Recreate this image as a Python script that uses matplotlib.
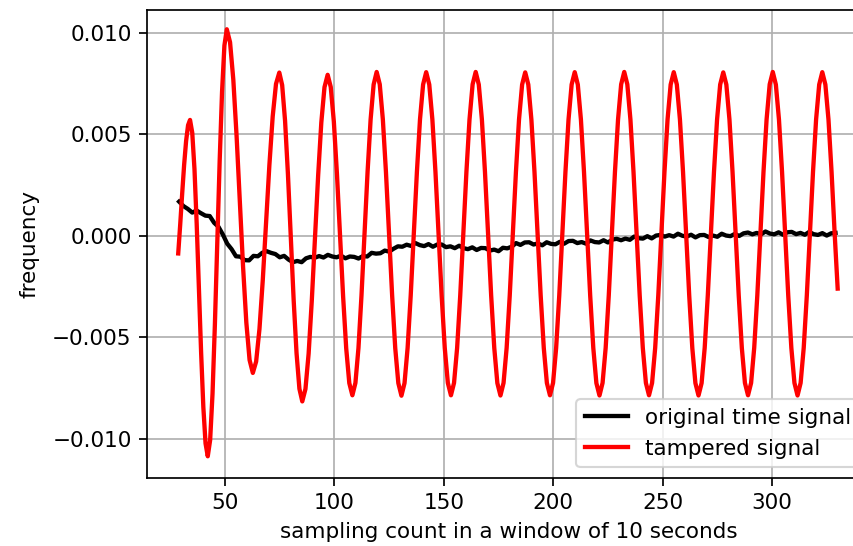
import numpy as np
import matplotlib.pyplot as plt

# original signal, one value every 2 samples (29 ... 329)
black_x = np.arange(29, 331, 2)
black_y = [
    0.00168, 0.00146, 0.00132, 0.00114, 0.00124, 0.00111, 0.00099, 0.00097, 0.00064, 0.00044,
    0.00006, -0.00039, -0.00066, -0.00101, -0.00103, -0.00120, -0.00121, -0.00099, -0.00101, -0.00084,
    -0.00076, -0.00084, -0.00090, -0.00106, -0.00099, -0.00117, -0.00130, -0.00124, -0.00130, -0.00111,
    -0.00104, -0.00108, -0.00100, -0.00107, -0.00094, -0.00102, -0.00106, -0.00098, -0.00111, -0.00102,
    -0.00104, -0.00112, -0.00100, -0.00102, -0.00084, -0.00088, -0.00086, -0.00073, -0.00078, -0.00064,
    -0.00052, -0.00054, -0.00044, -0.00050, -0.00036, -0.00046, -0.00051, -0.00041, -0.00054, -0.00043,
    -0.00043, -0.00056, -0.00052, -0.00061, -0.00049, -0.00061, -0.00066, -0.00057, -0.00070, -0.00060,
    -0.00061, -0.00073, -0.00068, -0.00076, -0.00059, -0.00062, -0.00054, -0.00036, -0.00045, -0.00033,
    -0.00032, -0.00043, -0.00038, -0.00047, -0.00032, -0.00040, -0.00042, -0.00030, -0.00039, -0.00026,
    -0.00025, -0.00036, -0.00031, -0.00039, -0.00023, -0.00031, -0.00033, -0.00022, -0.00033, -0.00019,
    -0.00015, -0.00022, -0.00014, -0.00020, -0.00004, -0.00012, -0.00014, -0.00002, -0.00013, 0.00001,
    0.00004, -0.00004, 0.00003, -0.00004, 0.00010, 0.00000, -0.00004, 0.00005, -0.00008, 0.00003,
    0.00004, -0.00006, 0.00001, -0.00005, 0.00010, 0.00001, -0.00002, 0.00009, -0.00001, 0.00012,
    0.00016, 0.00007, 0.00014, 0.00007, 0.00021, 0.00011, 0.00007, 0.00017, 0.00005, 0.00017,
    0.00019, 0.00008, 0.00014, 0.00005, 0.00019, 0.00008, 0.00004, 0.00013, 0.00001, 0.00012,
    0.00014,
]

# tampered signal
red_x = [
    28.6, 29.5, 30.4, 31.3, 32.2, 33.1, 34.0,
    35.01, 36.03, 37.04, 38.05, 39.06, 40.08, 41.09, 42.1,
    43.19, 44.28, 45.36, 46.45, 47.54, 48.63, 49.71, 50.8,
    52.29, 53.78, 55.26, 56.75, 58.24, 59.73, 61.21, 62.7,
    64.21, 65.73, 67.24, 68.75, 70.26, 71.78, 73.29, 74.8,
    76.11, 77.43, 78.74, 80.05, 81.36, 82.68, 83.99, 85.3,
    86.75, 88.2, 89.65, 91.1, 92.55, 94.0, 95.45, 96.9,
    98.31, 99.73, 101.14, 102.55, 103.96, 105.38, 106.79, 108.2,
    109.59, 110.98, 112.36, 113.75, 115.14, 116.53, 117.91,
    119.3, 120.71, 122.13, 123.54, 124.96, 126.37, 127.79, 129.2,
    130.62, 132.03, 133.44, 134.86, 136.27, 137.69, 139.1, 140.52,
    141.93, 143.34, 144.76, 146.17, 147.59, 149.0, 150.42, 151.83,
    153.25, 154.66, 156.07, 157.49, 158.9, 160.32, 161.73, 163.15,
    164.56, 165.97, 167.39, 168.8, 170.22, 171.63, 173.05, 174.46,
    175.88, 177.29, 178.7, 180.12, 181.53, 182.95, 184.36, 185.78,
    187.19, 188.6, 190.02, 191.43, 192.85, 194.26, 195.68, 197.09,
    198.51, 199.92, 201.33, 202.75, 204.16, 205.58, 206.99, 208.41,
    209.82, 211.23, 212.65, 214.06, 215.48, 216.89, 218.31, 219.72,
    221.14, 222.55, 223.96, 225.38, 226.79, 228.21, 229.62, 231.04,
    232.45, 233.86, 235.28, 236.69, 238.11, 239.52, 240.94, 242.35,
    243.77, 245.18, 246.59, 248.01, 249.42, 250.84, 252.25, 253.67,
    255.08, 256.49, 257.91, 259.32, 260.74, 262.15, 263.57, 264.98,
    266.4, 267.81, 269.22, 270.64, 272.05, 273.47, 274.88, 276.3,
    277.71, 279.12, 280.54, 281.95, 283.37, 284.78, 286.2, 287.61,
    289.03, 290.44, 291.85, 293.27, 294.68, 296.1, 297.51, 298.93,
    300.34, 301.75, 303.17, 304.58, 306.0, 307.41, 308.83, 310.24,
    311.66, 313.07, 314.48, 315.9, 317.31, 318.73, 320.14, 321.56,
    322.97, 324.38, 325.8, 327.21, 328.63, 330.0,
]
red_y = [
    -0.00087, 0.00054, 0.00206, 0.00349, 0.00466, 0.00544, 0.0057,
    0.00507, 0.00328, 0.00059, -0.00258, -0.00574, -0.00843, -0.01022, -0.01085,
    -0.01005, -0.00777, -0.00436, -0.00034, 0.00367, 0.00708, 0.00936, 0.01016,
    0.00952, 0.00768, 0.00494, 0.0017, -0.00153, -0.00427, -0.00611, -0.00675,
    -0.00619, -0.00459, -0.00219, 0.00064, 0.00347, 0.00587, 0.00747, 0.00803,
    0.00741, 0.00566, 0.00304, -0.00006, -0.00316, -0.00578, -0.00753, -0.00815,
    -0.00754, -0.0058, -0.00319, -0.00011, 0.00296, 0.00557, 0.00731, 0.00792,
    0.00732, 0.00561, 0.00305, 0.00003, -0.00298, -0.00554, -0.00725, -0.00785,
    -0.00724, -0.00552, -0.00294, 0.0001, 0.00314, 0.00572, 0.00744,
    0.00806, 0.00745, 0.00572, 0.00314, 0.0001, -0.00294, -0.00553, -0.00725,
    -0.00787, -0.00725, -0.00552, -0.00294, 0.0001, 0.00314, 0.00572, 0.00744,
    0.00805, 0.00744, 0.00572, 0.00314, 0.0001, -0.00294, -0.00552, -0.00724,
    -0.00785, -0.00724, -0.00552, -0.00294, 0.0001, 0.00314, 0.00572, 0.00745,
    0.00806, 0.00744, 0.00572, 0.00314, 0.0001, -0.00294, -0.00552, -0.00725,
    -0.00786, -0.00724, -0.00552, -0.00294, 0.0001, 0.00314, 0.00572, 0.00744,
    0.00804, 0.00744, 0.00571, 0.00314, 0.0001, -0.00294, -0.00552, -0.00724,
    -0.00785, -0.00724, -0.00552, -0.00294, 0.0001, 0.00314, 0.00572, 0.00744,
    0.00805, 0.00744, 0.00572, 0.00314, 0.0001, -0.00294, -0.00552, -0.00725,
    -0.00786, -0.00724, -0.00552, -0.00294, 0.0001, 0.00314, 0.00572, 0.00745,
    0.00806, 0.00745, 0.00572, 0.00314, 0.0001, -0.00294, -0.00552, -0.00724,
    -0.00785, -0.00724, -0.00552, -0.00294, 0.0001, 0.00314, 0.00572, 0.00744,
    0.00805, 0.00744, 0.00572, 0.00314, 0.0001, -0.00294, -0.00553, -0.00725,
    -0.00786, -0.00725, -0.00552, -0.00294, 0.0001, 0.00314, 0.00572, 0.00744,
    0.00804, 0.00744, 0.00572, 0.00314, 0.0001, -0.00294, -0.00552, -0.00724,
    -0.00785, -0.00724, -0.00552, -0.00294, 0.0001, 0.00314, 0.00572, 0.00745,
    0.00806, 0.00744, 0.00572, 0.00314, 0.0001, -0.00294, -0.00552, -0.00724,
    -0.00786, -0.00724, -0.00552, -0.00294, 0.0001, 0.00314, 0.00572, 0.00744,
    0.00805, 0.00744, 0.00572, 0.00314, 0.0001, -0.0026,
]

x_ticks = [50, 100, 150, 200, 250, 300]
y_ticks = [-0.010, -0.005, 0.000, 0.005, 0.010]

# the picture looks like a small notebook figure scaled up ~2x
scale = 2.15
dpi = 72 * scale
fig = plt.figure(figsize=(853 / dpi, 546 / dpi), dpi=dpi)
# right edge of the axes lies past the picture (it was cropped)
ax = fig.add_axes([0.172, 0.1245, 0.8485, 0.858])

ax.plot(black_x, black_y, color='black', lw=2, label='original time signal')
ax.plot(red_x, red_y, color='red', lw=2, label='tampered signal')

ax.set_xlim(14.2, 345)
ax.set_ylim(-0.01192, 0.01113)
ax.set_xticks(x_ticks)
ax.set_yticks(y_ticks)
ax.spines['right'].set_visible(False)
ax.grid(True)
ax.set_xlabel('sampling count in a window of 10 seconds')
ax.set_ylabel('frequency', labelpad=6)
ax.legend(loc='lower right')

fig.savefig('out.png', dpi=dpi)
